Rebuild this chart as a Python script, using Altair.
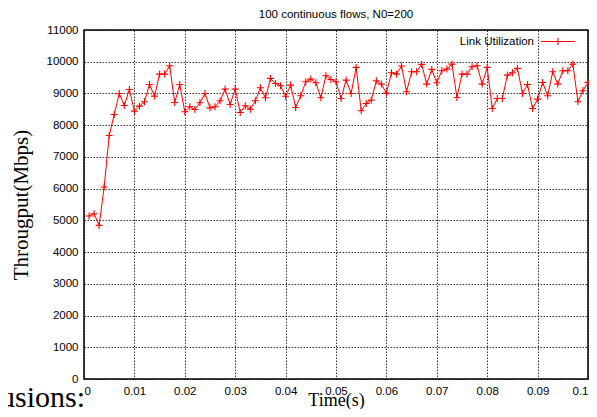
import altair as alt
import pandas as pd

# Time samples (s) and link utilization (Mbps)
times = [round(i * 0.001, 3) for i in range(1, 101)]
throughput = [
    5137, 5210, 4842, 6053, 7674, 8337, 9000, 8621, 9126, 8442,
    8600, 8737, 9284, 8916, 9610, 9610, 9874, 8716, 9284, 8421,
    8579, 8495, 8705, 9000, 8547, 8579, 8768, 9137, 8653, 9137,
    8400, 8611, 8505, 8768, 9179, 8863, 9474, 9316, 9242, 8910,
    9263, 8558, 8926, 9368, 9453, 9337, 8863, 9558, 9442, 9368,
    8842, 9421, 9000, 9821, 8453, 8684, 8789, 9400, 9295, 9010,
    9653, 9610, 9863, 9053, 9684, 9684, 9916, 9295, 9758, 9337,
    9716, 9768, 9926, 8874, 9610, 9610, 9842, 9874, 9295, 9821,
    8526, 8842, 8842, 9579, 9653, 9789, 9000, 9284, 8526, 8821,
    9347, 8926, 9684, 9295, 9716, 9716, 9926, 8737, 9084, 9350,
]
x_ticks = [0, 0.01, 0.02, 0.03, 0.04, 0.05, 0.06, 0.07, 0.08, 0.09, 0.1]
y_ticks = [0, 1000, 2000, 3000, 4000, 5000, 6000, 7000, 8000, 9000, 10000, 11000]
series_name = "Link Utilization"
chart_title = "100 continuous flows, N0=200"
x_title = "Time(s)"
y_title = "Througput(Mbps)"
page_text = "Conclusions:"

df = pd.DataFrame({"t": times, "v": throughput})

PLUS = "M-1,0L1,0M0,-1L0,1"
RED = "#ff0000"
W, H = 504, 349

base = alt.Chart(df).encode(
    x=alt.X(
        "t:Q",
        scale=alt.Scale(domain=[0, 0.1], nice=False, zero=False),
        axis=alt.Axis(
            values=x_ticks, format="~g", title=x_title,
            titleFont="Liberation Serif", titleFontSize=18, titleFontWeight="normal",
            titleColor="black", titleBaseline="alphabetic", titleY=26,
            labelPadding=6,
        ),
    ),
    y=alt.Y(
        "v:Q",
        scale=alt.Scale(domain=[0, 11000], nice=False),
        axis=alt.Axis(
            values=y_ticks, format="d", title=y_title,
            titleFont="Liberation Serif", titleFontSize=21, titleFontWeight="normal",
            titleColor="black", titleAngle=270, titleAlign="center",
            titleBaseline="middle", titleX=-63, titleY=H / 2,
            labelPadding=6,
        ),
    ),
)

line = base.mark_line(color=RED, strokeWidth=1)
pts = base.mark_point(shape=PLUS, size=49, filled=False, color=RED, strokeWidth=1.1, opacity=1)

leg_df = pd.DataFrame({"label": [series_name]})
leg_text = alt.Chart(leg_df).mark_text(
    align="right", baseline="middle", font="Liberation Sans", fontSize=11.5, color="black"
).encode(text="label:N", x=alt.value(450), y=alt.value(11.5))
leg_line = alt.Chart(leg_df).mark_rule(color=RED, strokeWidth=1).encode(
    x=alt.value(457), x2=alt.value(491), y=alt.value(11.5)
)
leg_pt = alt.Chart(leg_df).mark_point(
    shape=PLUS, size=49, filled=False, color=RED, strokeWidth=1.1, opacity=1
).encode(x=alt.value(474), y=alt.value(11.5))

page_df = pd.DataFrame({"txt": [page_text]})
page = alt.Chart(page_df).mark_text(
    align="right", baseline="alphabetic", font="Liberation Serif", fontSize=30, color="black"
).encode(text="txt:N", x=alt.value(1), y=alt.value(377))

chart = alt.layer(line, pts, leg_line, leg_pt, leg_text, page).properties(
    width=W, height=H,
    autosize=alt.AutoSizeParams(type="none"),
    padding={"left": 76, "top": 22, "right": 1, "bottom": 30},
    background="white",
    title=alt.TitleParams(
        chart_title, font="Liberation Sans", fontSize=11.5, fontWeight="normal",
        color="black", anchor="middle", offset=4,
    ),
).configure_view(
    stroke="black", strokeWidth=1.5
).configure_axis(
    labelFont="Liberation Sans", labelFontSize=11.5, labelColor="black",
    ticks=False, domain=False,
    grid=True, gridColor="#000000", gridDash=[1.5, 1.5], gridOpacity=0.8, gridWidth=1,
)

chart.save("out.html", embed_options={"renderer": "svg", "actions": False})
